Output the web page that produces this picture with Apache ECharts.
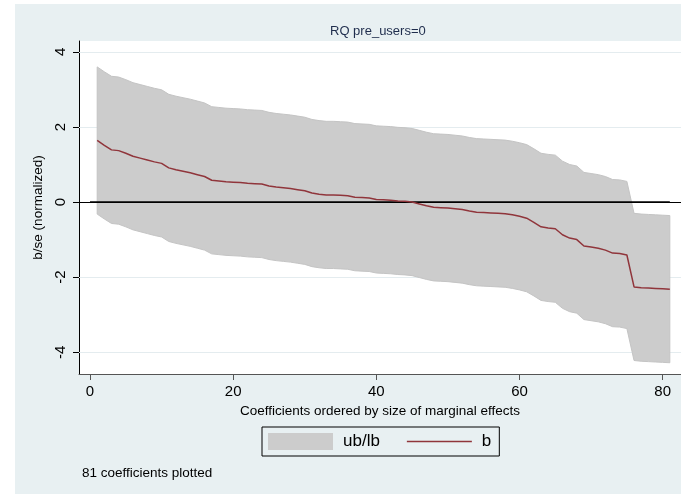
<!DOCTYPE html>
<html><head><meta charset="utf-8">
<script src="https://cdn.jsdelivr.net/npm/echarts@6/dist/echarts.min.js"></script>
<style>
html,body{margin:0;padding:0;background:#fff}
#bg{position:absolute;left:15px;top:4px;width:666px;height:490px;background:#e8f0f2}
#c{position:absolute;left:0;top:0;width:681px;height:497px}
</style>
</head><body><div id="bg"></div><div id="c"></div>
<script>
const idx = [1,2,3,4,5,6,7,8,9,10,11,12,13,14,15,16,17,18,19,20,21,22,23,24,25,26,27,28,29,30,31,32,33,34,35,36,37,38,39,40,41,42,43,44,45,46,47,48,49,50,51,52,53,54,55,56,57,58,59,60,61,62,63,64,65,66,67,68,69,70,71,72,73,74,75,76,77,78,79,80,81];
const b = [1.64,1.51,1.39,1.37,1.30,1.22,1.17,1.12,1.07,1.03,0.91,0.86,0.82,0.78,0.73,0.68,0.58,0.56,0.54,0.53,0.52,0.50,0.49,0.48,0.43,0.40,0.38,0.36,0.33,0.30,0.24,0.21,0.19,0.19,0.18,0.17,0.13,0.12,0.11,0.07,0.06,0.05,0.03,0.02,0.00,-0.05,-0.10,-0.14,-0.15,-0.16,-0.18,-0.20,-0.24,-0.27,-0.28,-0.29,-0.30,-0.31,-0.34,-0.38,-0.43,-0.54,-0.66,-0.69,-0.71,-0.87,-0.96,-1.00,-1.17,-1.20,-1.23,-1.28,-1.36,-1.37,-1.41,-2.26,-2.28,-2.29,-2.30,-2.31,-2.32];
const ub = [3.60,3.47,3.35,3.33,3.26,3.18,3.13,3.08,3.03,2.99,2.87,2.82,2.78,2.74,2.69,2.64,2.54,2.52,2.50,2.49,2.48,2.46,2.45,2.44,2.39,2.36,2.34,2.32,2.29,2.26,2.20,2.17,2.15,2.15,2.14,2.13,2.09,2.08,2.07,2.03,2.02,2.01,1.99,1.98,1.96,1.91,1.86,1.82,1.81,1.80,1.78,1.76,1.72,1.69,1.68,1.67,1.66,1.65,1.62,1.58,1.53,1.42,1.30,1.27,1.25,1.09,1.00,0.96,0.79,0.76,0.73,0.68,0.60,0.59,0.55,-0.30,-0.32,-0.33,-0.34,-0.35,-0.36];
const lb = [-0.32,-0.45,-0.57,-0.59,-0.66,-0.74,-0.79,-0.84,-0.89,-0.93,-1.05,-1.10,-1.14,-1.18,-1.23,-1.28,-1.38,-1.40,-1.42,-1.43,-1.44,-1.46,-1.47,-1.48,-1.53,-1.56,-1.58,-1.60,-1.63,-1.66,-1.72,-1.75,-1.77,-1.77,-1.78,-1.79,-1.83,-1.84,-1.85,-1.89,-1.90,-1.91,-1.93,-1.94,-1.96,-2.01,-2.06,-2.10,-2.11,-2.12,-2.14,-2.16,-2.20,-2.23,-2.24,-2.25,-2.26,-2.27,-2.30,-2.34,-2.39,-2.50,-2.62,-2.65,-2.67,-2.83,-2.92,-2.96,-3.13,-3.16,-3.19,-3.24,-3.32,-3.33,-3.37,-4.22,-4.24,-4.25,-4.26,-4.27,-4.28];
const xTicks = [0,20,40,60,80];
const yTicks = [-4,-2,0,2,4];
const yGrid = [-4,-2,2,4];
const zeroLineX = [0,81];
const zeroLevel = 0;

const FONT = '"Liberation Sans", Arial, Helvetica, sans-serif';
const chart = echarts.init(document.getElementById('c'), null, {renderer:'canvas'});
const pair = (xs, ys) => xs.map((x,i)=>[x, ys[i]]);
const bandData = idx.map((x,i)=>[x, ub[i], lb[i]]);

function renderBand(params, api) {
  if (params.dataIndex !== 0) return null;
  const upper = bandData.map(d => api.coord([d[0], d[1]]));
  const lower = bandData.map(d => api.coord([d[0], d[2]])).reverse();
  return {
    type:'polygon',
    shape:{points: upper.concat(lower)},
    style:{fill:'#cccccc', stroke:'#c4c4c4', lineWidth:1},
    silent:true
  };
}

const option = {
  animation:false,
  backgroundColor:'transparent',
  textStyle:{fontFamily:FONT},
  title:[
    {text:'RQ pre_users=0', left:330, top:25, padding:0,
     textStyle:{fontSize:13, fontWeight:'normal', color:'#1f2d4d', fontFamily:FONT}},
    {text:'81 coefficients plotted', left:82, top:466, padding:0,
     textStyle:{fontSize:13.5, fontWeight:'normal', color:'#000', fontFamily:FONT}}
  ],
  grid:{left:79, right:0, top:41, bottom:123, show:true, backgroundColor:'#fff', borderWidth:0, containLabel:false, outerBoundsMode:'none'},
  legend:{
    data:[{name:'ub/lb', icon:'rect'}, {name:'b', icon:'path://M0,0L65,0L65,1.5L0,1.5Z'}],
    left:262, top:427, padding:[6,8,6,6], itemWidth:65, itemHeight:17, itemGap:27,
    borderColor:'#000', borderWidth:1, selectedMode:false,
    textStyle:{fontSize:17, color:'#000', fontFamily:FONT, padding:[0,0,0,5]}
  },
  xAxis:{
    type:'value', min:-1.54, max:82.56,
    axisLine:{show:true, onZero:false, lineStyle:{color:'#555', width:1}},
    axisTick:{show:true, length:6, customValues:xTicks, lineStyle:{color:'#555'}},
    axisLabel:{customValues:xTicks, fontSize:15, color:'#000', margin:10, fontFamily:FONT},
    splitLine:{show:false},
    name:'Coefficients ordered by size of marginal effects', nameLocation:'middle', nameGap:28,
    nameTextStyle:{fontSize:13.5, color:'#000', fontFamily:FONT}
  },
  yAxis:{
    type:'value', min:-4.58, max:4.29,
    axisLine:{show:true, onZero:false, lineStyle:{color:'#000', width:1}},
    axisTick:{show:true, length:6, customValues:yTicks, lineStyle:{color:'#000'}},
    axisLabel:{customValues:yTicks, rotate:90, fontSize:15, color:'#000', margin:11, fontFamily:FONT},
    splitLine:{show:false},
    name:'b/se (normalized)', nameLocation:'middle', nameGap:30,
    nameTextStyle:{fontSize:13.5, color:'#000', fontFamily:FONT}
  },
  series:[
    {name:'ub/lb', type:'custom', data:bandData, renderItem:renderBand,
     encode:{x:0, y:[1,2]}, color:'#cccccc', itemStyle:{color:'#cccccc'}, z:2, silent:true},
    {name:'zero', type:'line', data:zeroLineX.map(x=>[x, zeroLevel]), symbol:'none', silent:true,
     lineStyle:{color:'#000', width:1.5}, z:4,
     markLine:{silent:true, symbol:'none', z:4, label:{show:false}, animation:false,
       lineStyle:{color:'#000', width:1, type:'solid'}, data:[{yAxis:zeroLevel}]}},
    {name:'b', type:'line', data:pair(idx, b), symbol:'none', silent:true,
     color:'#90353b', itemStyle:{color:'#90353b'}, lineStyle:{color:'#90353b', width:1.5}, z:5,
     markLine:{silent:true, symbol:'none', z:1, label:{show:false}, animation:false,
       lineStyle:{color:'#e4ecef', width:1, type:'solid'}, data:yGrid.map(v=>({yAxis:v}))}}
  ]
};
chart.setOption(option);
</script>
</body></html>
